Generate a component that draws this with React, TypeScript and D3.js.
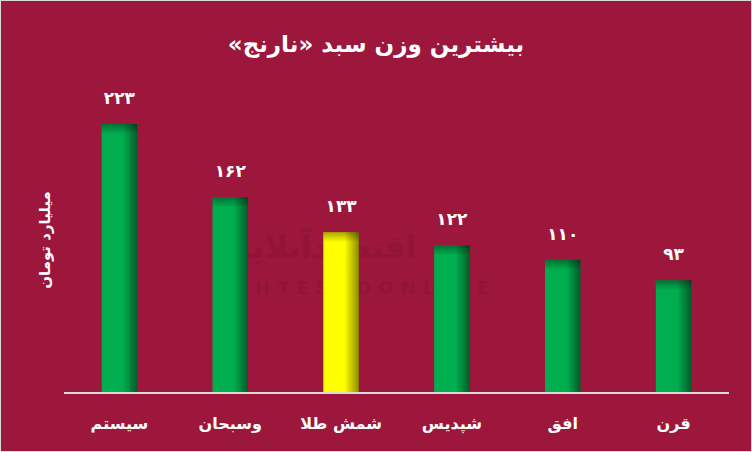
import React from "react";
import * as d3 from "d3";

const categories = ["سیستم", "وسبحان", "شمش طلا", "شپدیس", "افق", "قرن"];
const values = [223, 162, 133, 122, 110, 93];
const valueLabels = ["۲۲۳", "۱۶۲", "۱۳۳", "۱۲۲", "۱۱۰", "۹۳"];
const highlight = [false, false, true, false, false, false];
const title = "بیشترین وزن سبد «نارنج»";
const yLabel = "میلیارد تومان";

const W = 752;
const H = 452;
const margin = { left: 64, right: 23, top: 124, bottom: 60 };
const baseY = 392;

export default function App() {
  const x = d3
    .scaleBand<string>()
    .domain(categories)
    .range([margin.left, W - margin.right])
    .paddingInner(0.68)
    .paddingOuter(0.34);
  const y = d3.scaleLinear().domain([0, 223]).range([baseY, margin.top]);
  const font = "'DejaVu Sans', sans-serif";
  return (
    <div style={{ position: "absolute", left: 0, top: 0 }}>
      <svg width={W} height={H} style={{ display: "block" }}>
        <defs>
          <linearGradient id="gGreen" x1="0" x2="1" y1="0" y2="0">
            <stop offset="0" stopColor="#00AE4F" />
            <stop offset="0.6" stopColor="#00AE4F" />
            <stop offset="1" stopColor="#005C2A" />
          </linearGradient>
          <linearGradient id="gYellow" x1="0" x2="1" y1="0" y2="0">
            <stop offset="0" stopColor="#FFFF00" />
            <stop offset="0.6" stopColor="#FFFF00" />
            <stop offset="1" stopColor="#8C8C00" />
          </linearGradient>
          <linearGradient id="gTop" x1="0" x2="0" y1="0" y2="1">
            <stop offset="0" stopColor="#000" stopOpacity="0.35" />
            <stop offset="1" stopColor="#000" stopOpacity="0" />
          </linearGradient>
        </defs>
        <rect x={0.5} y={0.5} width={W - 1} height={H - 1} fill="#9C173B" stroke="#D9D9D9" />
        <g opacity={0.06} fill="#000" fontFamily={font} fontWeight="bold" textAnchor="middle">
          <text x={320} y={258} fontSize={32} direction="rtl">اقتصادآنلاین</text>
          <text x={355} y={294} fontSize={18} letterSpacing={7}>EGHTESADONLINE</text>
        </g>
        <text
          x={W / 2}
          y={52}
          textAnchor="middle"
          fill="#fff"
          fontFamily={font}
          fontWeight="bold"
          fontSize={23}
          direction="rtl"
        >
          {title}
        </text>
        <text
          transform={`translate(50,240) rotate(-90)`}
          textAnchor="middle"
          fill="#fff"
          fontFamily={font}
          fontWeight="bold"
          fontSize={15}
          direction="rtl"
        >
          {yLabel}
        </text>
        {categories.map((c, i) => {
          const bx = x(c)!;
          const bw = x.bandwidth();
          const by = y(values[i]);
          const bh = baseY - by;
          return (
            <g key={c}>
              <rect x={bx} y={by} width={bw} height={bh} fill={highlight[i] ? "url(#gYellow)" : "url(#gGreen)"} />
              <rect x={bx} y={by} width={bw} height={Math.min(10, bh)} fill="url(#gTop)" />
              <text
                x={bx + bw / 2}
                y={by - 20}
                textAnchor="middle"
                fill="#fff"
                fontFamily={font}
                fontWeight="bold"
                fontSize={17}
              >
                {valueLabels[i]}
              </text>
              <text
                x={bx + bw / 2}
                y={429}
                textAnchor="middle"
                fill="#fff"
                fontFamily={font}
                fontWeight="bold"
                fontSize={16}
                direction="rtl"
              >
                {c}
              </text>
            </g>
          );
        })}
        <line x1={margin.left} x2={W - margin.right} y1={baseY + 1} y2={baseY + 1} stroke="#D9D9D9" strokeWidth={2} />
      </svg>
    </div>
  );
}
